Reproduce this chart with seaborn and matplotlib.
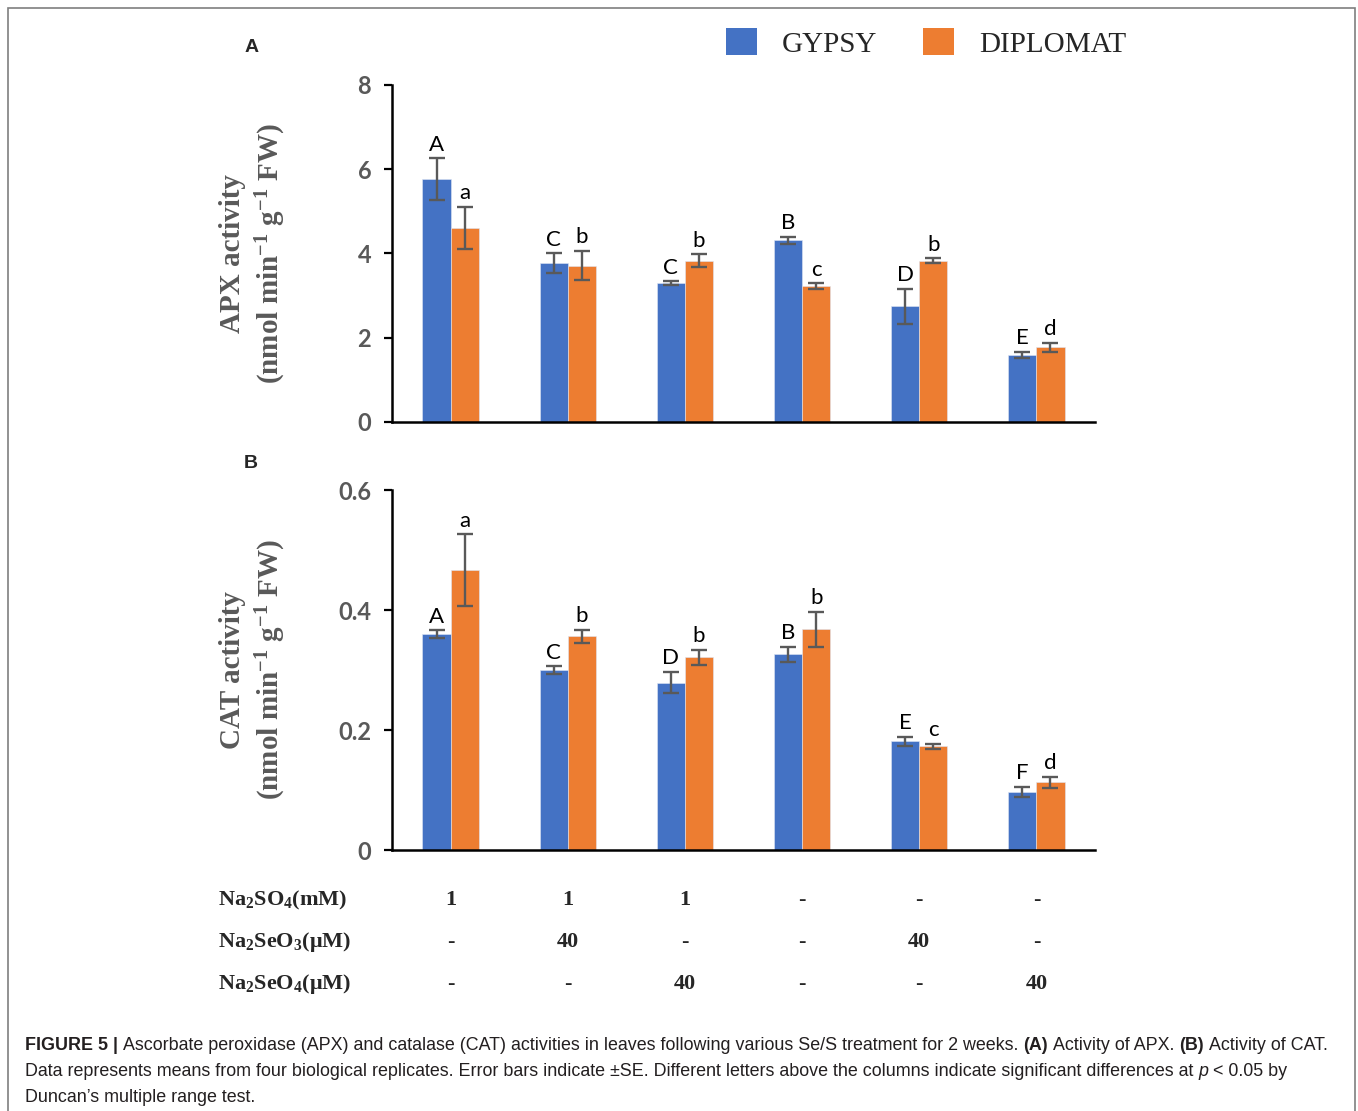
import numpy as np
import pandas as pd
import matplotlib
matplotlib.use("Agg")
import matplotlib.pyplot as plt
import matplotlib.transforms as mtransforms
from matplotlib.patches import Patch, Rectangle
import seaborn as sns

# ---------------- data ----------------
cultivars = ["GYPSY", "DIPLOMAT"]
na2so4 = ["1", "1", "1", "-", "-", "-"]
na2seo3 = ["-", "40", "-", "-", "40", "-"]
na2seo4 = ["-", "-", "40", "-", "-", "40"]

apx_gypsy = [5.76, 3.77, 3.29, 4.31, 2.74, 1.59]
apx_gypsy_se = [0.50, 0.23, 0.05, 0.09, 0.42, 0.075]
apx_diplomat = [4.61, 3.71, 3.83, 3.22, 3.83, 1.77]
apx_diplomat_se = [0.50, 0.35, 0.15, 0.07, 0.06, 0.11]
apx_letters_gypsy = ["A", "C", "C", "B", "D", "E"]
apx_letters_diplomat = ["a", "b", "b", "c", "b", "d"]

cat_gypsy = [0.360, 0.300, 0.279, 0.326, 0.181, 0.097]
cat_gypsy_se = [0.006, 0.0065, 0.018, 0.0125, 0.008, 0.0085]
cat_diplomat = [0.466, 0.356, 0.321, 0.368, 0.173, 0.113]
cat_diplomat_se = [0.060, 0.0115, 0.013, 0.029, 0.0045, 0.009]
cat_letters_gypsy = ["A", "C", "D", "B", "E", "F"]
cat_letters_diplomat = ["a", "b", "b", "b", "c", "d"]

apx_ticks = [0, 2, 4, 6, 8]
cat_ticks = [0, 0.2, 0.4, 0.6]
cat_ticklabels = ["0", "0.2", "0.4", "0.6"]

row_labels = [r"Na$_2$SO$_4$(mM)", r"Na$_2$SeO$_3$(μM)", r"Na$_2$SeO$_4$(μM)"]

treatments = [f"{a}|{b}|{c}" for a, b, c in zip(na2so4, na2seo3, na2seo4)]

# ---------------- style ----------------
BLUE = "#4472C4"
ORANGE = "#ED7D31"
GRAY = "#595959"

sns.set_style("white")
plt.rcParams["font.family"] = ["Lato", "DejaVu Sans"]
plt.rcParams["mathtext.fontset"] = "custom"
plt.rcParams["mathtext.rm"] = "Liberation Serif:bold"
plt.rcParams["mathtext.bf"] = "Liberation Serif:bold"
plt.rcParams["mathtext.it"] = "Liberation Serif:bold:italic"

W, H = 1358, 1111
fig = plt.figure(figsize=(W / 100, H / 100), dpi=100)


def fx(px):
    return px / W


def fy(py):
    return 1 - py / H


# border box
fig.add_artist(Rectangle((fx(8), -0.05), fx(1355) - fx(8), fy(8) + 0.05,
                         transform=fig.transFigure, fill=False,
                         edgecolor="#7f7f7f", linewidth=1.2))

ax1 = fig.add_axes([fx(392), fy(421.7), fx(1095) - fx(392), (421.7 - 85) / H])
ax2 = fig.add_axes([fx(392), fy(850), fx(1095) - fx(392), (850 - 490) / H])

BAR_W = 0.48


def panel(ax, g, gse, d, dse, lg, ld, ylim, ticks, ticklabels, ylabel):
    df = pd.DataFrame({
        "treatment": treatments * 2,
        "cultivar": [cultivars[0]] * 6 + [cultivars[1]] * 6,
        "value": list(g) + list(d),
    })
    sns.barplot(data=df, x="treatment", y="value", hue="cultivar",
                order=treatments, hue_order=cultivars,
                palette=[BLUE, ORANGE], saturation=1, width=BAR_W, gap=0,
                errorbar=None, ax=ax, legend=False, linewidth=0.4,
                edgecolor="#dfe6f3")
    idx = np.arange(len(treatments))
    off = BAR_W / 4
    for vals, ses, lets, dx in ((g, gse, lg, -off), (d, dse, ld, off)):
        ax.errorbar(idx + dx, vals, yerr=ses, fmt="none", ecolor=GRAY,
                    elinewidth=1.7, capsize=5.5, capthick=1.7, zorder=5)
        for x, v, s, t in zip(idx + dx, vals, ses, lets):
            ax.annotate(t, (x, v + s), xytext=(0, 2.5), textcoords="offset points",
                        ha="center", va="bottom", fontsize=16,
                        family=["Lato", "DejaVu Sans"], color="black")
    ax.set_xlim(-0.5, len(treatments) - 0.5)
    ax.set_ylim(*ylim)
    ax.set_xticks([])
    ax.set_xlabel("")
    ax.set_yticks(ticks)
    ax.set_yticklabels(ticklabels)
    for sp in ("top", "right"):
        ax.spines[sp].set_visible(False)
    for sp in ("left", "bottom"):
        ax.spines[sp].set_color("black")
        ax.spines[sp].set_linewidth(1.8)
    ax.tick_params(axis="y", direction="out", length=6, width=1.6,
                   color="black", pad=9, labelsize=17, labelcolor=GRAY,
                   left=True)
    for lab in ax.get_yticklabels():
        lab.set_fontweight("bold")
    ax.set_ylabel(ylabel, fontsize=21, color=GRAY, family="Liberation Serif",
                  fontweight="bold", linespacing=1.3)
    ax.yaxis.set_label_coords(-0.148, 0.5)
    ax.set_facecolor("white")


panel(ax1, apx_gypsy, apx_gypsy_se, apx_diplomat, apx_diplomat_se,
      apx_letters_gypsy, apx_letters_diplomat, (0, 8), apx_ticks,
      [str(t) for t in apx_ticks],
      "APX activity\n(nmol min$^{-1}$ g$^{-1}$ FW)")
panel(ax2, cat_gypsy, cat_gypsy_se, cat_diplomat, cat_diplomat_se,
      cat_letters_gypsy, cat_letters_diplomat, (0, 0.6), cat_ticks,
      cat_ticklabels,
      "CAT activity\n(nmol min$^{-1}$ g$^{-1}$ FW)")

# panel labels
fig.text(fx(252), fy(48), "A", ha="center", va="center", fontsize=14,
         fontweight="bold", family="Liberation Sans")
fig.text(fx(251), fy(464), "B", ha="center", va="center", fontsize=14,
         fontweight="bold", family="Liberation Sans")

# legend
handles = [Patch(facecolor=BLUE, edgecolor="none"),
           Patch(facecolor=ORANGE, edgecolor="none")]
fig.legend(handles, cultivars, loc="center", bbox_to_anchor=(fx(926), fy(43)),
           ncol=2, frameon=False, borderpad=0, handlelength=1.05,
           handleheight=1.05, handletextpad=0.85, columnspacing=1.6,
           prop={"family": "Liberation Serif", "size": 21})

# treatment table
rows = [na2so4, na2seo3, na2seo4]
row_y = [900, 942, 984]
blend = mtransforms.blended_transform_factory(ax2.transData, fig.transFigure)
for lab, vals, py in zip(row_labels, rows, row_y):
    fig.text(fx(218), fy(py), lab, ha="left", va="center", fontsize=16,
             fontweight="bold", family="Liberation Serif")
    for i, v in enumerate(vals):
        ax2.text(i, fy(py), v, transform=blend, ha="center", va="center",
                 fontsize=16, fontweight="bold", family="Liberation Serif")

# caption
renderer = fig.canvas.get_renderer()
CAP = dict(fontsize=12.87, family="Liberation Sans", color="#231f20")


def measure(s, **kw):
    t = fig.text(0, 0, s, **kw)
    w = t.get_window_extent(renderer).width
    t.remove()
    return w


space_w = measure("a a", **CAP) - measure("aa", **CAP)


def rich_line(pieces, x0, py):
    x = x0
    for s, style in pieces:
        lead = len(s) - len(s.lstrip(" "))
        trail = len(s) - len(s.rstrip(" "))
        x += lead * space_w
        core = s.strip(" ")
        kw = dict(CAP)
        if style == "b":
            kw["fontweight"] = "bold"
        elif style == "i":
            kw["style"] = "italic"
        t = fig.text(fx(x), fy(py), core, ha="left", va="center", **kw)
        x += t.get_window_extent(renderer).width
        x += trail * space_w


rich_line([("FIGURE 5 |", "b"),
           (" Ascorbate peroxidase (APX) and catalase (CAT) activities in leaves following various Se/S treatment for 2 weeks. ", "n"),
           ("(A)", "b"), (" Activity of APX. ", "n"), ("(B)", "b"),
           (" Activity of CAT.", "n")], 25, 1046)
rich_line([("Data represents means from four biological replicates. Error bars indicate \u00b1SE. Different letters above the columns indicate significant differences at ", "n"),
           ("p", "i"), (" < 0.05 by", "n")], 25, 1071)
rich_line([("Duncan\u2019s multiple range test.", "n")], 25, 1097)

fig.savefig("out.png", dpi=100, facecolor="white")
